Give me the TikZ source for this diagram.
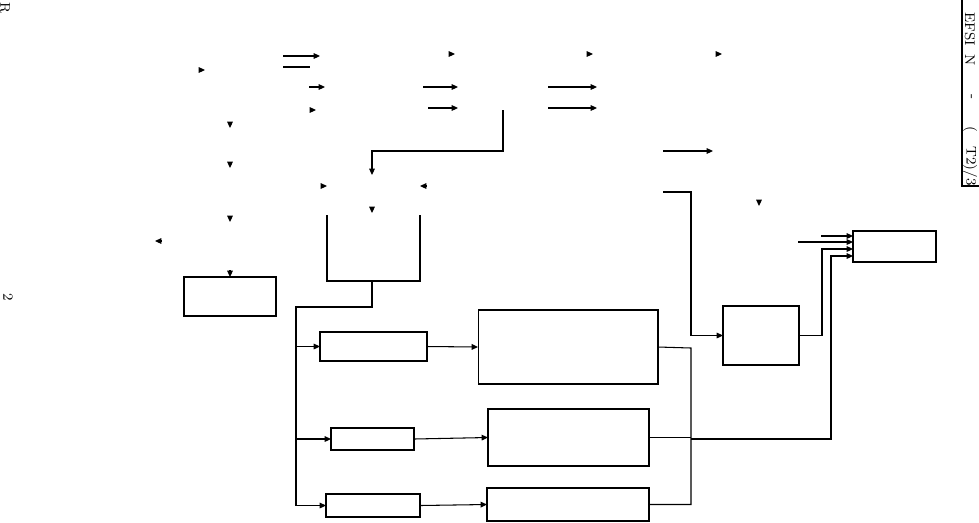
\documentclass[tikz,border=0pt]{standalone}
\usepackage{tikz}
\usetikzlibrary{arrows.meta}

\begin{document}
\begin{tikzpicture}[x=0.02cm, y=-0.02cm, line width=0.6pt,
    box/.style={draw, rectangle, inner sep=0pt, outer sep=0pt},
    tip/.style={-{Triangle[length=3.6pt,width=3.2pt]}},
    side/.style={rotate=-90, font=\footnotesize, inner sep=0pt}]
    \useasboundingbox (0,0) rectangle (979,522);
    \node[box, minimum width=1.84cm, minimum height=0.78cm] (source) at (230,296.5) {};
    \node[box, minimum width=2.14cm, minimum height=0.58cm] (amp1) at (373.5,346.5) {};
    \node[box, minimum width=3.60cm, minimum height=1.48cm] (proc1) at (568,347) {};
    \node[box, minimum width=1.66cm, minimum height=0.44cm] (amp2) at (372.5,439) {};
    \node[box, minimum width=3.22cm, minimum height=1.14cm] (proc2) at (568.5,437.5) {};
    \node[box, minimum width=1.88cm, minimum height=0.46cm] (amp3) at (373,505.5) {};
    \node[box, minimum width=3.24cm, minimum height=0.66cm] (proc3) at (568,504.5) {};
    \node[box, minimum width=1.52cm, minimum height=1.18cm] (mixer) at (761,335.5) {};
    \node[box, minimum width=1.66cm, minimum height=0.62cm] (result) at (894.5,246.5) {};
    \coordinate (tankL) at (327,215);
    \coordinate (tankR) at (420,215);
    \coordinate (tank) at (372,281);
    \coordinate (bus) at (296,307);
    \coordinate (sum) at (691,348);
    \coordinate (feed) at (663,192);
    \coordinate (ret) at (503,110);
    \draw (tankL) -- (tankL |- tank) -- (tankR |- tank) -- (tankR);
    \draw (tank) -- (tank |- bus) -- (bus) -- (bus |- amp3.west);
    \draw[tip] (bus |- amp1.west) -- (amp1.west);
    \draw[tip] (bus |- amp2.west) -- (amp2.west);
    \draw[tip] (bus |- amp3.west) -- (amp3.west);
    \draw[tip] (amp1.east) -- (proc1.west);
    \draw[tip] (amp2.east) -- (proc2.west);
    \draw[tip] (amp3.east) -- (proc3.west);
    \draw (proc1.east) -- (sum) -- (sum |- proc3.east) -- (proc3.east);
    \draw (proc2.east) -- (sum |- proc2.east);
    \draw[tip] (sum |- 0,439) -| (831,256) -- (result.west |- 0,256);
    \draw[tip] (feed) -| (sum |- mixer.west) -- (mixer.west);
    \draw[tip] (mixer.east) -| (822,249) -- (result.west |- 0,249);
    \draw[tip] (821,236) -- (result.west |- 0,236);
    \draw[tip] (798,242) -- (result.west |- 0,242);
    \draw[tip] (ret) |- (372,151) -- (372,175);
    \draw[tip] (230,270) -- (source.north);
    \draw[tip] (283,56) -- (320,56);
    \draw (283,67) -- (310,67);
    \draw[tip] (309,87) -- (325,87);
    \draw[tip] (423,87) -- (458,87);
    \draw[tip] (428,108) -- (458,108);
    \draw[tip] (548,87) -- (597,87);
    \draw[tip] (548,108) -- (597,108);
    \draw[tip] (663,151) -- (713,151);
    \foreach \x/\y/\dx/\dy in {205/70/1/0, 316/110/1/0, 455/54/1/0, 593/54/1/0,
        722/54/1/0, 327/186/1/0, 420/186/-1/0, 155/241/-1/0, 230/128/0/1,
        230/168/0/1, 230/222/0/1, 372/213/0/1, 759/206/0/1}
        \draw[tip] (\x-6*\dx,\y-6*\dy) -- (\x,\y);
    \draw (962,0) -- (962,186) -- (979,186);
    \node[side] (t1) at (970,29) {EFSI};
    \node[side] (t2) at (970,60) {N};
    \node[side] (t3) at (970,97) {-};
    \node[side] (t4) at (970,129) {(};
    \node[side] (t5) at (970,166) {T2)/3};
    \node[side] (r) at (5,8) {R};
    \node[side] (p) at (8,297) {2};
\end{tikzpicture}
\end{document}
